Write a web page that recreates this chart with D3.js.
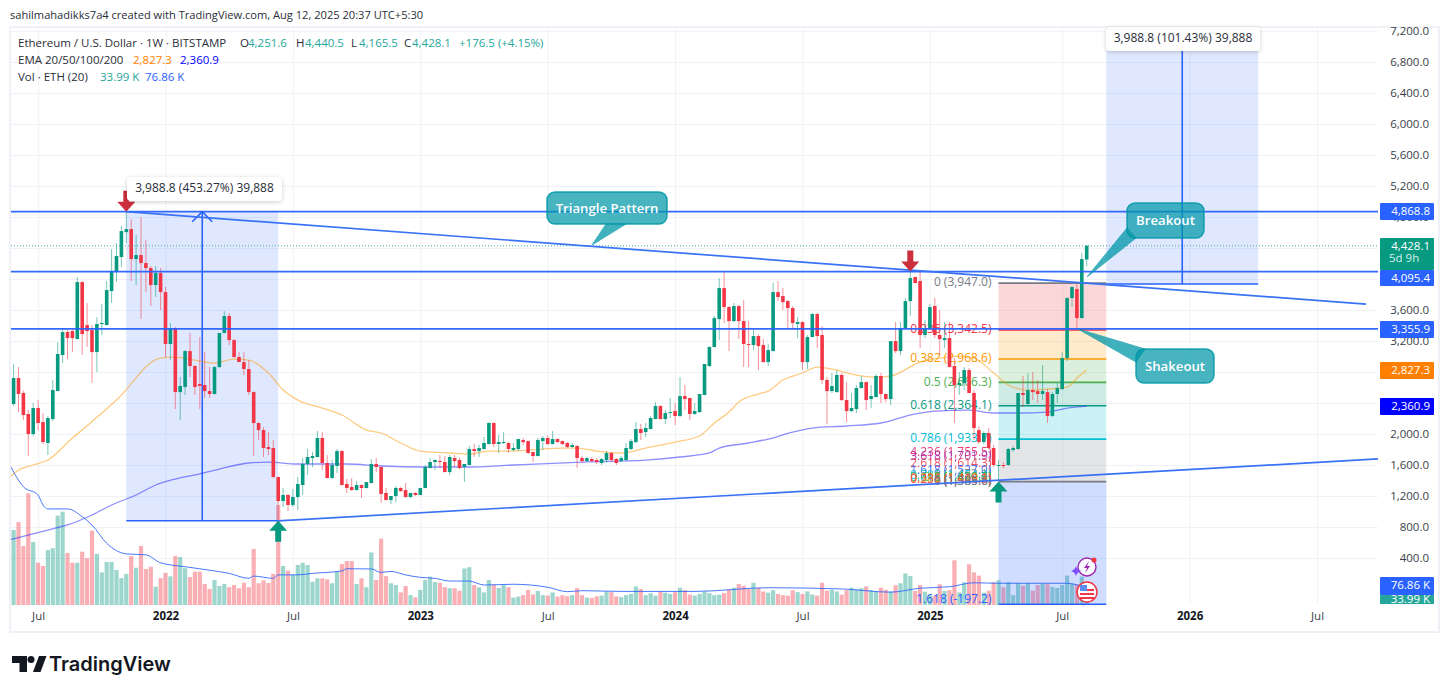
<!doctype html>
<html>
<head>
<meta charset="utf-8">
<style>
  body { margin: 0; background: #fff; font-family: "Open Sans", Arial, sans-serif; }
  svg { display: block; }
  text { font-family: "Open Sans", Arial, sans-serif; }
  .domain { display: none; }
</style>
<script src="https://cdnjs.cloudflare.com/ajax/libs/d3/7.8.5/d3.min.js"></script>
</head>
<body>
<script>
// weekly ETHUSD candles, one value per week
var opens = [2103,2387,2722,2529,2258,2000,2335,2154,1884,2193,
  2554,3019,3315,3328,3225,3960,3406,3341,3057,3419,
  3406,3844,4089,4283,4605,4644,4257,4309,4206,4141,
  3922,4077,3831,3161,3367,2541,2606,3070,2877,2645,
  2632,2554,2516,2864,3303,3522,3212,2993,2928,2838,
  2541,2142,2051,1832,1819,1445,1135,1213,1084,1187,
  1342,1613,1690,1703,1948,1626,1432,1587,1780,1355,
  1316,1277,1342,1303,1368,1613,1574,1239,1148,1200,
  1303,1277,1187,1239,1213,1303,1561,1638,1651,1638,
  1509,1690,1664,1574,1600,1806,1780,1806,1871,2142,
  1871,1884,1884,1793,1806,1922,1909,1767,1716,1909,
  1948,1871,1935,1909,1884,1832,1845,1690,1651,1677,
  1664,1626,1664,1755,1677,1651,1664,1806,1896,2064,
  2025,2064,2193,2361,2193,2271,2296,2232,2490,2464,
  2258,2283,2503,2877,3122,3483,3883,3638,3457,3651,
  3457,3161,3148,3264,3148,2928,3070,3831,3780,3715,
  3625,3419,3444,2928,3251,3548,3277,2696,2554,2541,
  2761,2438,2296,2322,2593,2670,2451,2477,2748,2516,
  2451,3199,3070,3367,3715,4025,3973,3277,3354,3651,
  3277,3212,3238,2877,2632,2658,2825,2529,2051,1896,
  2013,1819,1587,1600,1600,1793,1806,2529,2387,2567,
  2554,2516,2541,2232,2516,2580,2980,3754,3870,3496,
  4251.6];
var highs = [2722,2903,2864,2560,2309,2400,2438,2271,2232,2696,
  3186,3367,3341,3367,4025,3973,3690,3406,3509,3677,
  3973,4386,4464,4683,4889,4773,4567,4799,4502,4167,
  4167,4141,3896,3432,3380,2735,3083,3303,2890,3251,
  3057,2864,2877,3303,3586,3561,3225,3057,3057,2954,
  2550,2150,2090,2025,1922,1450,1303,1226,1290,1445,
  1690,1806,1767,2038,2025,1729,1664,1806,1793,1419,
  1432,1393,1350,1380,1677,1690,1587,1303,1200,1329,
  1316,1368,1239,1251,1303,1600,1690,1677,1729,1716,
  1729,1729,1690,1613,1845,1871,1858,1961,2154,2150,
  1987,2025,1896,1884,1935,1948,1915,1775,1948,1974,
  1987,2038,1940,1915,1896,1884,1858,1716,1703,1703,
  1690,1690,1780,1767,1690,1716,1884,1935,2154,2129,
  2142,2232,2412,2374,2309,2464,2400,2735,2632,2470,
  2400,2516,2903,3135,3522,4012,4089,3651,3690,3664,
  3728,3457,3367,3290,3225,3161,3948,3973,3883,3728,
  3651,3509,3457,3277,3561,3561,3393,2735,2787,2825,
  2787,2670,2529,2632,2748,2675,2632,2774,2787,2525,
  3199,3444,3444,3754,4115,4030,4115,3470,3677,3754,
  3599,3444,3444,2980,2799,2864,2851,2567,2100,2038,
  2077,1858,1664,1638,1819,1845,2529,2748,2787,2799,
  2696,2890,2580,2541,2658,3057,3767,3909,3948,4335,
  4440.5];
var lows = [2103,2360,2283,2180,1716,1974,2051,1871,1729,2167,
  2554,2916,2967,3057,3225,3019,3122,2658,2799,3277,
  3400,3690,3960,4154,4464,3973,3922,3483,3831,3651,
  3767,3599,2993,2954,2322,2180,2503,2735,2503,2322,
  2464,2464,2510,2851,3300,3148,2980,2928,2761,2503,
  1716,1922,1703,1729,1432,890,1058,1006,1058,1019,
  1213,1471,1574,1700,1535,1425,1425,1497,1335,1239,
  1270,1270,1174,1296,1360,1509,1110,1140,1097,1122,
  1251,1180,1174,1200,1208,1300,1555,1535,1561,1505,
  1471,1574,1548,1380,1595,1703,1703,1800,1865,1832,
  1755,1871,1755,1780,1780,1858,1742,1638,1710,1793,
  1858,1865,1884,1858,1819,1819,1561,1626,1638,1638,
  1613,1600,1626,1638,1600,1638,1651,1793,1884,1922,
  1961,2060,2190,2190,2129,2206,2116,2219,2309,2180,
  2250,2271,2500,2864,3118,3212,3432,3070,3444,3225,
  2864,2864,3083,2825,2925,2877,3065,3715,3599,3367,
  3367,3238,2825,2838,3245,3109,2645,2129,2529,2535,
  2425,2154,2283,2271,2590,2309,2335,2470,2400,2412,
  2374,3045,3019,3360,3522,3945,3109,3238,3350,3238,
  3019,3109,2860,2142,2503,2567,2525,1922,1870,1871,
  1806,1574,1406,1561,1587,1767,1800,2348,2374,2438,
  2400,2438,2142,2219,2400,2567,2941,3638,3354,3490,
  4165.5];
var closes = [2567,2722,2516,2245,2000,2335,2142,1896,2206,2567,
  3032,3315,3238,3238,3960,3290,3328,3057,3419,3432,
  3857,4102,4296,4618,4644,4257,4309,4206,4141,3922,
  4077,3831,3161,3367,2541,2619,3070,2877,2606,2619,
  2554,2516,2864,3303,3522,3212,2993,2928,2838,2541,
  2142,2051,1819,1806,1445,1135,1213,1084,1187,1355,
  1613,1703,1716,1948,1626,1432,1600,1780,1342,1303,
  1277,1342,1303,1380,1613,1574,1226,1148,1200,1303,
  1264,1187,1239,1213,1303,1574,1638,1664,1638,1509,
  1703,1651,1561,1613,1806,1780,1819,1884,2142,1871,
  1896,1896,1806,1819,1935,1896,1755,1716,1922,1948,
  1871,1935,1896,1871,1832,1858,1690,1651,1690,1651,
  1638,1677,1755,1664,1626,1690,1819,1909,2064,2013,
  2077,2206,2361,2193,2271,2283,2232,2490,2451,2258,
  2296,2516,2903,3122,3496,3883,3638,3457,3651,3457,
  3161,3148,3264,3135,2928,3083,3831,3767,3702,3625,
  3432,3444,2928,3251,3548,3264,2696,2554,2619,2761,
  2438,2296,2335,2593,2670,2438,2490,2748,2516,2451,
  3199,3070,3367,3715,4012,3948,3277,3367,3638,3277,
  3225,3238,2864,2632,2658,2825,2529,2077,1896,2013,
  1819,1600,1600,1587,1806,1819,2529,2503,2567,2541,
  2516,2554,2232,2516,2593,2980,3754,3896,3496,4257,
  4428.1];
// volume in thousands of ETH
var volumes = [530,304,336,239,452,255,171,158,223,230,
  362,378,211,171,171,216,190,301,207,132,
  174,174,142,109,126,198,151,239,146,155,
  74,109,130,116,198,194,149,113,135,135,
  85,65,101,77,85,72,81,68,90,72,
  227,88,100,89,126,405,158,139,122,162,
  171,162,94,108,108,104,88,135,166,178,
  178,85,108,72,213,101,269,117,88,81,
  51,77,40,31,61,101,115,93,90,72,
  68,68,58,148,153,81,72,51,101,82,
  69,81,72,30,34,40,61,43,57,40,
  38,51,34,40,36,40,68,40,30,28,
  35,38,55,52,35,32,40,45,75,65,
  40,48,38,55,50,45,52,70,60,42,
  38,45,55,48,40,42,48,62,70,85,
  78,65,90,70,55,50,60,45,40,38,
  60,52,45,55,42,38,90,58,62,55,
  42,60,70,62,68,75,60,55,70,62,
  55,80,88,128,117,57,81,54,40,38,
  84,57,60,181,51,92,165,132,119,50,
  58,92,100,72,92,40,88,78,88,58,
  81,85,84,73,69,81,119,88,85,115,
  33.99];

// indicator lines, read at these week numbers
var ema50Weeks = [0,2,5,8,13,15,19,22,31,34,39,42,46,49,53,56,59,64,68,73,76,80,84,90,94,98,103,109,113,116,120,125,130,136,141,144,147,149,153,155,158,162,165,169,172,177,180,186,190,194,197,201,204,208,212,216,218,220];
var ema50 = [1432,1535,1600,1664,1948,2051,2271,2438,2980,2993,2941,2916,2967,2954,2787,2567,2438,2335,2245,2051,2013,1884,1780,1755,1742,1780,1780,1806,1819,1819,1780,1755,1819,1896,1974,2142,2283,2412,2516,2554,2696,2787,2864,2825,2774,2735,2748,2928,2980,3006,2980,2787,2632,2567,2580,2606,2722,2827.3];
var ema200Weeks = [0,8,12,17,21,26,30,34,39,43,49,53,59,69,76,85,94,103,117,130,137,143,145,151,155,160,164,171,178,184,189,196,201,206,212,216,220];
var ema200 = [632,761,826,955,1084,1213,1342,1419,1484,1548,1626,1638,1613,1613,1587,1574,1574,1600,1638,1664,1703,1755,1819,1884,1935,2025,2077,2103,2142,2245,2296,2309,2271,2271,2283,2335,2360.9];
var volMaWeeks = [0,3,6,7,8,12,15,17,20,24,28,31,36,42,45,49,50,54,55,59,62,68,69,74,76,78,81,84,87,90,94,97,103,110,114,117,125,140,155,170,180,186,192,197,202,209,216,219,220];
var volMa = [576,479,445,405,389,389,358,324,250,207,203,171,155,138,128,108,117,108,122,122,128,138,147,146,132,136,122,112,108,97,97,81,84,72,54,58,55,55,70,65,52,68,74,90,88,88,88,78,76.86];

var priceTicks = [400,800,1200,1600,2000,2400,2800,3200,3600,4000,4400,4800,5200,5600,6000,6400,6800,7200];
var timeTickWeeks = [6,32,58,84,110,136,162,188,215,241,267];
var timeTickLabels = ["Jul","2022","Jul","2023","Jul","2024","Jul","2025","Jul","2026","Jul"];

var hLevels = [4868.8, 4095.4, 3355.9];

// main fib retracement, drawn over the 2025 swing
var fibRatios = [0,0.236,0.382,0.5,0.618,0.786,1,1.618];
var fibPrices = [3947.0,3342.5,2968.6,2666.3,2364.1,1933.7,1385.6,-197.2];
var fibColors = ["#787b86","#f23645","#ff9800","#4caf50","#089981","#00bcd4","#787b86","#2962ff"];
var fibFills = ["#f23645","#ff9800","#4caf50","#089981","#00bcd4","#787b86","#2962ff"];
// second, small fib whose labels pile up near the bottom of the first
var smallFibRatios = [4.236,3.618,2.618,1.618,1,0.786,0.618,0.5,0.382,0.236,0];
var smallFibPrices = [1755.5,1701.9,1614.3,1527.0,1473.1,1454.4,1439.7,1429.4,1419.1,1406.3,1385.6];
var smallFibColors = ["#e91e63","#9c27b0","#f23645","#2962ff","#787b86","#00bcd4","#089981","#4caf50","#ff9800","#f23645","#787b86"];

var W = 1450, H = 693;
var pane = { left: 11, top: 28, right: 1378, bottom: 604 };
var green = "#089981", red = "#f23645", blue = "#2962ff";

var x = d3.scaleLinear().domain([0, 220]).range([8.7, 1086.7]);
var y = d3.scaleLinear().domain([400, 7200]).range([558, 31]);
var yVol = d3.scaleLinear().domain([0, 405]).range([605, 505]);

var svg = d3.select("body").append("svg").attr("width", W).attr("height", H);

svg.append("defs").append("clipPath").attr("id", "paneClip").append("rect")
  .attr("x", pane.left).attr("y", pane.top)
  .attr("width", pane.right - pane.left).attr("height", pane.bottom - pane.top + 1);
var f = svg.select("defs").append("filter").attr("id", "soft")
  .attr("x", "-10%").attr("y", "-30%").attr("width", "120%").attr("height", "170%");
f.append("feDropShadow").attr("dx", 0).attr("dy", 1).attr("stdDeviation", 2).attr("flood-color", "#000").attr("flood-opacity", 0.2);

svg.append("text").attr("x", 10).attr("y", 19).attr("font-size", 11.1).attr("fill", "#2a2e39")
  .text("sahilmahadikks7a4 created with TradingView.com, Aug 12, 2025 20:37 UTC+5:30");

svg.append("rect").attr("x", 10).attr("y", 27).attr("width", 1429).attr("height", 605)
  .attr("fill", "#fff").attr("stroke", "#eff1f6").attr("stroke-width", 2);

// grid
var gridY = svg.append("g").attr("transform", "translate(" + pane.right + ",0)")
  .call(d3.axisLeft(y).tickValues(priceTicks).tickSize(pane.right - pane.left).tickFormat(""));
var gridX = svg.append("g").attr("transform", "translate(0," + pane.bottom + ")")
  .call(d3.axisBottom(x).tickValues(timeTickWeeks).tickSize(-(pane.bottom - pane.top)).tickFormat(""));
svg.selectAll("g .tick line").attr("stroke", "#f0f2f7");

// axes
var yAxis = svg.append("g").attr("transform", "translate(1429,0)")
  .call(d3.axisRight(y).tickValues(priceTicks).tickSize(0).tickPadding(0).tickFormat(d3.format(",.1f")));
yAxis.selectAll("text").attr("text-anchor", "end").attr("font-size", 11.5).attr("fill", "#3a3e49");
var xAxis = svg.append("g").attr("transform", "translate(0," + pane.bottom + ")")
  .call(d3.axisBottom(x).tickValues(timeTickWeeks).tickSize(0).tickPadding(8)
    .tickFormat(function(d, i) { return timeTickLabels[i]; }));
xAxis.selectAll("text").attr("font-size", 11.5)
  .attr("fill", function(d, i) { return /^\d/.test(timeTickLabels[i]) ? "#131722" : "#3a3e49"; })
  .attr("font-weight", function(d, i) { return /^\d/.test(timeTickLabels[i]) ? 700 : 400; });

var plot = svg.append("g").attr("clip-path", "url(#paneClip)");
var weeks = d3.range(opens.length);
var barW = 3.6;

// volume
plot.append("g").selectAll("rect").data(weeks).enter().append("rect")
  .attr("x", function(i) { return x(i) - 2.1; })
  .attr("width", 4.2)
  .attr("y", function(i) { return yVol(volumes[i]); })
  .attr("height", function(i) { return yVol(0) - yVol(volumes[i]); })
  .attr("fill", function(i) { return closes[i] >= opens[i] ? green : red; })
  .attr("opacity", 0.4);

// range boxes
function measureBox(startWeek, endWeek, fromPrice, toPrice) {
  plot.append("rect")
    .attr("x", x(startWeek)).attr("width", x(endWeek) - x(startWeek))
    .attr("y", y(toPrice)).attr("height", y(fromPrice) - y(toPrice))
    .attr("fill", blue).attr("opacity", 0.15);
  plot.append("line")
    .attr("x1", x(startWeek)).attr("x2", x(endWeek))
    .attr("y1", y(fromPrice)).attr("y2", y(fromPrice))
    .attr("stroke", blue).attr("stroke-width", 1.6);
  var mid = (startWeek + endWeek) / 2;
  plot.append("line")
    .attr("x1", x(mid)).attr("x2", x(mid))
    .attr("y1", y(fromPrice)).attr("y2", y(toPrice))
    .attr("stroke", blue).attr("stroke-width", 1.6);
  return x(mid);
}
var m1 = measureBox(24, 55, 880, 4868.8);
plot.append("path")
  .attr("d", "M" + (m1 - 10) + "," + (y(4868.8) + 10) + "L" + m1 + "," + y(4868.8) + "L" + (m1 + 10) + "," + (y(4868.8) + 10))
  .attr("fill", "none").attr("stroke", blue).attr("stroke-width", 1.5);

// fib bands and labels sit under the candles
var fibA = 202, fibB = 224;
fibFills.forEach(function(c, k) {
  plot.append("rect")
    .attr("x", x(fibA)).attr("width", x(fibB) - x(fibA))
    .attr("y", y(fibPrices[k])).attr("height", y(fibPrices[k + 1]) - y(fibPrices[k]))
    .attr("fill", c).attr("opacity", k === 6 ? 0.22 : 0.2);
});
measureBox(224, 255, 3935, 7924);
fibRatios.forEach(function(r, k) {
  plot.append("line")
    .attr("x1", x(fibA)).attr("x2", x(fibB))
    .attr("y1", y(fibPrices[k])).attr("y2", y(fibPrices[k]))
    .attr("stroke", fibColors[k]).attr("stroke-width", 1.6);
  plot.append("text")
    .attr("x", x(fibA) - 7).attr("y", y(fibPrices[k]) - (k === 7 ? 4 : 0))
    .attr("text-anchor", "end").attr("dominant-baseline", "middle")
    .attr("font-size", 12).attr("fill", fibColors[k])
    .text(r + " (" + d3.format(",.1f")(fibPrices[k]).replace("−", "-") + ")");
});
smallFibRatios.forEach(function(r, k) {
  plot.append("text")
    .attr("x", x(fibA) - 7).attr("y", y(smallFibPrices[k]))
    .attr("text-anchor", "end").attr("dominant-baseline", "middle")
    .attr("font-size", 12).attr("fill", smallFibColors[k]).attr("opacity", 0.85)
    .text(r + " (" + d3.format(",.1f")(smallFibPrices[k]) + ")");
});

// ema lines
function drawLine(weekList, values, scale, color, width, op) {
  plot.append("path")
    .attr("d", d3.line().curve(d3.curveMonotoneX)
      .x(function(w) { return x(w); })
      .y(function(w, k) { return scale(values[k]); })(weekList))
    .attr("fill", "none").attr("stroke", color).attr("stroke-width", width).attr("opacity", op);
}
drawLine(ema50Weeks, ema50, y, "#ff9800", 1.3, 0.5);
drawLine(ema200Weeks, ema200, y, "#2020ff", 1.3, 0.5);

// candles
var candles = plot.append("g").selectAll("g").data(weeks).enter().append("g");
candles.append("line")
  .attr("x1", function(i) { return x(i); }).attr("x2", function(i) { return x(i); })
  .attr("y1", function(i) { return y(highs[i]); }).attr("y2", function(i) { return y(lows[i]); })
  .attr("stroke", function(i) { return closes[i] >= opens[i] ? green : red; })
  .attr("stroke-width", 1).attr("opacity", 0.55);
candles.append("rect")
  .attr("x", function(i) { return x(i) - barW / 2; }).attr("width", barW)
  .attr("y", function(i) { return y(Math.max(opens[i], closes[i])); })
  .attr("height", function(i) { return Math.max(1, Math.abs(y(opens[i]) - y(closes[i]))); })
  .attr("fill", function(i) { return closes[i] >= opens[i] ? green : red; });

drawLine(volMaWeeks, volMa, yVol, blue, 1, 0.85);

// last price dotted line
plot.append("line").attr("x1", pane.left).attr("x2", pane.right)
  .attr("y1", y(4428.1)).attr("y2", y(4428.1))
  .attr("stroke", green).attr("stroke-width", 1).attr("stroke-dasharray", "1,2").attr("opacity", 0.75);

// horizontal levels
plot.selectAll(".hlevel").data(hLevels).enter().append("line")
  .attr("class", "hlevel").attr("x1", pane.left).attr("x2", pane.right + 2)
  .attr("y1", function(d) { return y(d); }).attr("y2", function(d) { return y(d); })
  .attr("stroke", blue).attr("stroke-width", 1.6).attr("opacity", 0.95);

// trendlines of the triangle
var upperLine = { w1: 24, p1: 4868.8, w2: 277, p2: 3677 };
var lowerLine = { w1: 55, p1: 880, w2: 280, p2: 1680 };
[upperLine, lowerLine].forEach(function(l) {
  plot.append("line")
    .attr("x1", x(l.w1)).attr("y1", y(l.p1)).attr("x2", x(l.w2)).attr("y2", y(l.p2))
    .attr("stroke", "#3a72f5").attr("stroke-width", 1.7);
});

// signal arrows
function arrow(week, price, dir, color) {
  var cx = x(week), tip = y(price);
  var d = dir > 0
    ? [[0,0],[9,10],[3,10],[3,21],[-3,21],[-3,10],[-9,10]]
    : [[0,0],[9,-10],[3,-10],[3,-21],[-3,-21],[-3,-10],[-9,-10]];
  svg.append("path").attr("fill", color)
    .attr("d", "M" + d.map(function(p) { return (cx + p[0]) + "," + (tip + p[1]); }).join("L") + "Z");
}
arrow(24, 4868.8, -1, "#cc2f3c");
arrow(184, 4095.4, -1, "#cc2f3c");
arrow(55, 880, 1, green);
arrow(202, 1385.6, 1, green);

// measure labels
function valueLabel(x0, y0, w, txt) {
  svg.append("rect").attr("x", x0).attr("y", y0).attr("width", w).attr("height", 24).attr("rx", 4)
    .attr("fill", "#fff").attr("filter", "url(#soft)");
  svg.append("text").attr("x", x0 + w / 2).attr("y", y0 + 12).attr("text-anchor", "middle")
    .attr("dominant-baseline", "middle").attr("font-size", 12).attr("fill", "#2a2e39").text(txt);
}
valueLabel(127, 177, 155, "3,988.8 (453.27%) 39,888");
valueLabel(1106, 27, 154, "3,988.8 (101.43%) 39,888");

// callouts
function callout(bx, by, bw, bh, tail, txt) {
  var r = 8;
  var box = "M" + (bx + r) + "," + by + "h" + (bw - 2 * r) + "a" + r + "," + r + " 0 0 1 " + r + "," + r +
    "v" + (bh - 2 * r) + "a" + r + "," + r + " 0 0 1 -" + r + "," + r +
    "h-" + (bw - 2 * r) + "a" + r + "," + r + " 0 0 1 -" + r + ",-" + r +
    "v-" + (bh - 2 * r) + "a" + r + "," + r + " 0 0 1 " + r + ",-" + r + "Z";
  svg.append("path").attr("d", "M" + tail.map(function(p) { return p.join(","); }).join("L") + "Z")
    .attr("fill", "#0097a7").attr("opacity", 0.75).attr("stroke", "#0097a7").attr("stroke-width", 1);
  svg.append("path").attr("d", box).attr("fill", "#0097a7").attr("fill-opacity", 0.72)
    .attr("stroke", "#0097a7").attr("stroke-opacity", 0.85).attr("stroke-width", 1.5);
  svg.append("text").attr("x", bx + bw / 2).attr("y", by + bh / 2 + 1).attr("text-anchor", "middle")
    .attr("dominant-baseline", "middle").attr("font-size", 13.2).attr("font-weight", 600).attr("fill", "#fff").text(txt);
}
callout(547, 192, 120, 32, [[606,224],[592,245],[626,224]], "Triangle Pattern");
callout(1127, 203, 77, 35, [[1127,228],[1087,277],[1136,238]], "Breakout");
callout(1136, 349, 78, 34, [[1145,349],[1078,329],[1136,362]], "Shakeout");

// price tags on the axis
function tag(price, color, txt, h, top) {
  svg.append("rect").attr("x", 1380).attr("y", top).attr("width", 54).attr("height", h).attr("rx", 1).attr("fill", color);
  svg.append("text").attr("x", 1430).attr("y", top + 9).attr("text-anchor", "end")
    .attr("dominant-baseline", "middle").attr("font-size", 11.5).attr("fill", "#fff").text(txt);
}
tag(4868.8, blue, "4,868.8", 17, 203);
tag(4428.1, green, "4,428.1", 32, 238);
svg.append("text").attr("x", 1389).attr("y", 259).attr("dominant-baseline", "middle")
  .attr("font-size", 11.5).attr("fill", "#d6f0ea").text("5d 9h");
tag(4095.4, blue, "4,095.4", 16, 270);
tag(3355.9, blue, "3,355.9", 17, 321);
tag(2827.3, "#ff7f00", "2,827.3", 17, 362);
tag(2360.9, "#0000ff", "2,360.9", 17, 398);
tag(76.86, blue, "76.86 K", 18, 577);
svg.append("rect").attr("x", 1380).attr("y", 595).attr("width", 54).attr("height", 9).attr("fill", "#26a69a");
svg.append("clipPath").attr("id", "volTag").append("rect").attr("x", 1380).attr("y", 595).attr("width", 54).attr("height", 9);
svg.append("text").attr("x", 1430).attr("y", 600).attr("text-anchor", "end").attr("clip-path", "url(#volTag)")
  .attr("dominant-baseline", "middle").attr("font-size", 11.5).attr("fill", "#fff").text("33.99 K");

// legend
var legendSize = 11.5;
function legend(px, py, txt, color) {
  svg.append("text").attr("x", px).attr("y", py).attr("font-size", legendSize).attr("fill", color).text(txt);
}
var up = "#26a69a", dark = "#2a2e39";
legend(18, 47, "Ethereum / U.S. Dollar · 1W · BITSTAMP", dark);
legend(240, 47, "O", dark); legend(248, 47, "4,251.6", up);
legend(296, 47, "H", dark); legend(305, 47, "4,440.5", up);
legend(351, 47, "L", dark); legend(359, 47, "4,165.5", up);
legend(404, 47, "C", dark); legend(412, 47, "4,428.1", up);
legend(459, 47, "+176.5 (+4.15%)", up);
legend(18, 64, "EMA 20/50/100/200", dark);
legend(133, 64, "2,827.3", "#ff7f00");
legend(180, 64, "2,360.9", "#0000ff");
legend(18, 81, "Vol · ETH (20)", dark);
legend(100, 81, "33.99 K", up);
legend(145, 81, "76.86 K", blue);

// the two event icons
var bolt = svg.append("g").attr("transform", "translate(1087,567)");
bolt.append("circle").attr("r", 9).attr("fill", "#fff").attr("fill-opacity", 0.9).attr("stroke", "#9c27b0").attr("stroke-width", 1.4);
bolt.append("path").attr("d", "M2,-6L-3,1H0L-2,6L3,-1H0Z").attr("fill", "#9c27b0");
bolt.append("circle").attr("cx", 7).attr("cy", -7).attr("r", 2.5).attr("fill", "#f23645");
svg.append("path").attr("transform", "translate(1076,571)")
  .attr("d", "M0,-5Q1,-1 5,0Q1,1 0,5Q-1,1 -5,0Q-1,-1 0,-5Z").attr("fill", "#7c4dff");
var flag = svg.append("g").attr("transform", "translate(1087,592)");
flag.append("circle").attr("r", 10).attr("fill", "#fff").attr("stroke", "#f23645").attr("stroke-width", 1.5);
[-3, 1, 5].forEach(function(d) {
  flag.append("rect").attr("x", -7).attr("y", d).attr("width", 14).attr("height", 2).attr("fill", "#f23645");
});
flag.append("rect").attr("x", -7).attr("y", -7).attr("width", 7).attr("height", 6).attr("fill", "#5b8def");

// footer logo
var logo = svg.append("g").attr("fill", "#131722");
logo.append("path").attr("d", "M12,656h15v16h-7.5v-9h-7.5Z");
logo.append("circle").attr("cx", 31).attr("cy", 659.5).attr("r", 3.5);
logo.append("path").attr("d", "M33,672L39,656H46.5L40.5,672Z");
svg.append("text").attr("x", 49).attr("y", 671).attr("font-size", 20).attr("font-weight", 600)
  .attr("fill", "#131722").style("font-family", "Inter, sans-serif").text("TradingView");
</script>
</body>
</html>
